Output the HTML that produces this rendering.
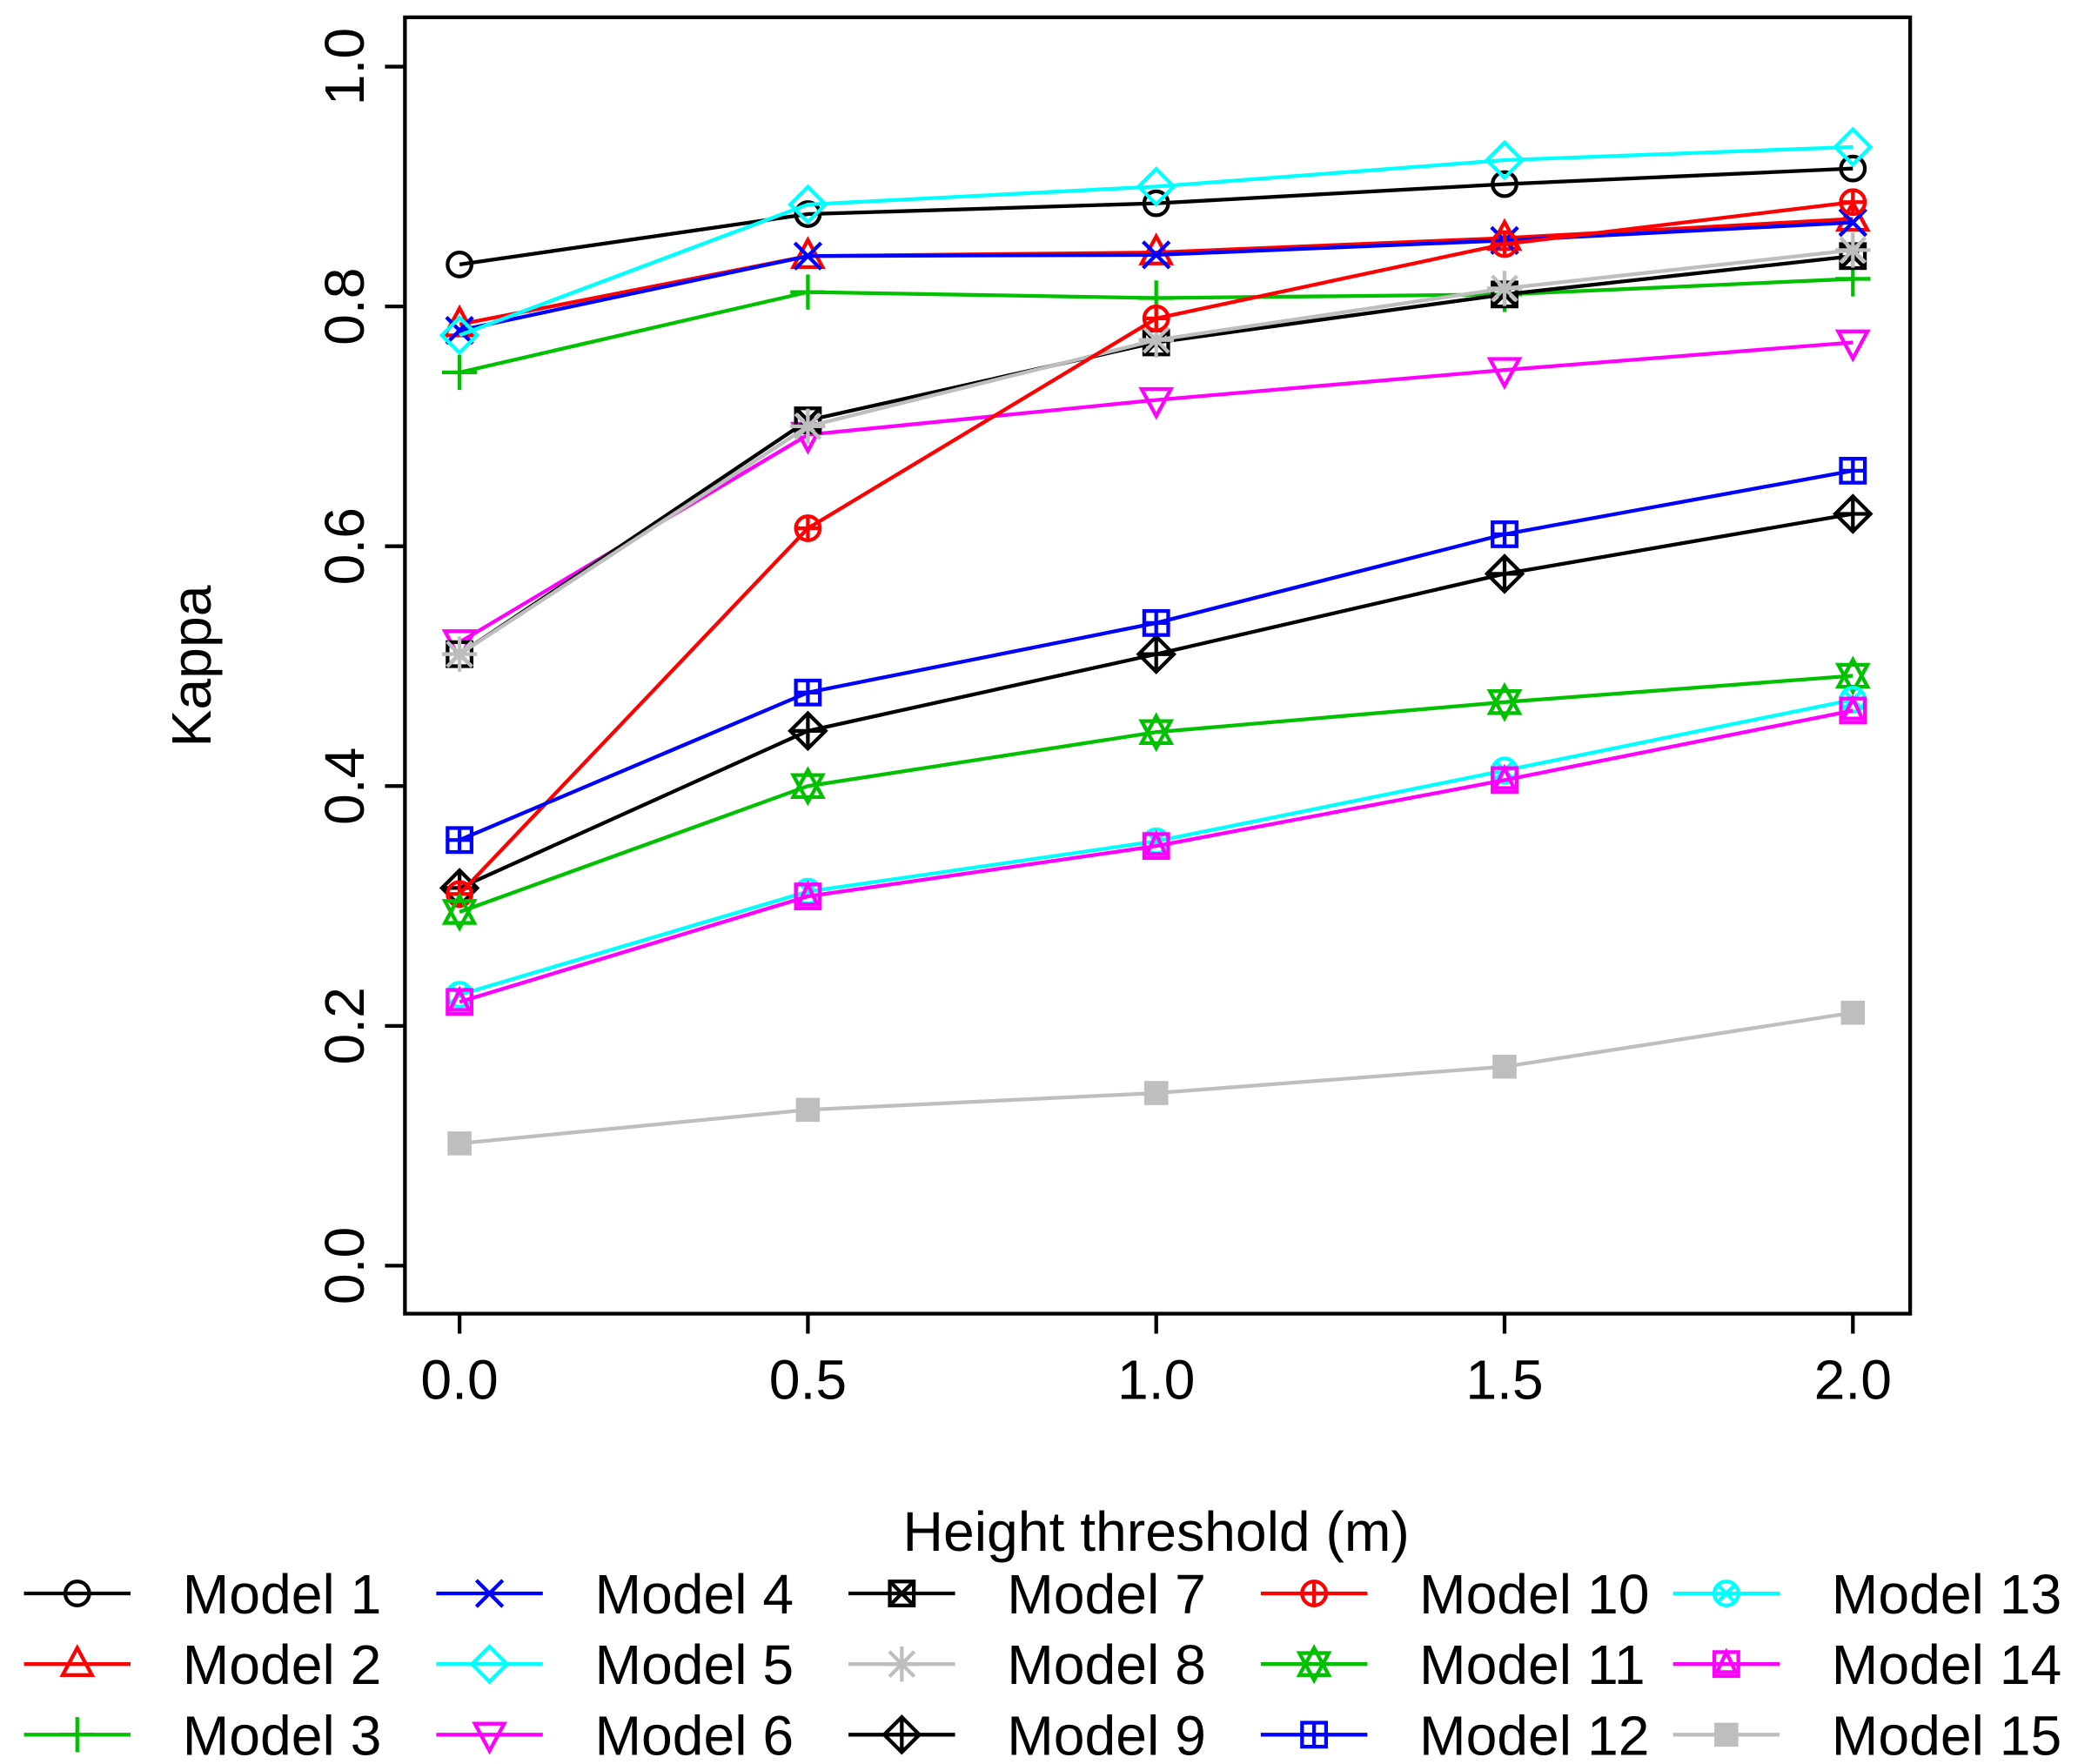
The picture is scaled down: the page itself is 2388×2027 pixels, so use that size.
<!DOCTYPE html>
<html><head><meta charset="utf-8"><style>
html,body{margin:0;padding:0;background:#fff}
svg{display:block}
text{font-family:"Liberation Sans",sans-serif;fill:#000}
</style></head><body>
<svg id="chart" width="2388" height="2027" viewBox="0 0 1560 1324" preserveAspectRatio="none" xmlns="http://www.w3.org/2000/svg">
<rect x="304" y="13" width="1130" height="973" fill="none" stroke="#000" stroke-width="2.8"/>
<g id="axes"></g>
<g id="series"></g>
<g id="legend"></g>
<text x="158" y="500" font-size="42" text-anchor="middle" transform="rotate(-90 158 500)">Kappa</text>
<text x="868" y="1164" font-size="42" text-anchor="middle">Height threshold (m)</text>
</svg>
<script>
const xValues=[0,0.5,1,1.5,2];
const xTickLabels=["0.0","0.5","1.0","1.5","2.0"];
const yTicks=[0,0.2,0.4,0.6,0.8,1.0];
const yTickLabels=["0.0","0.2","0.4","0.6","0.8","1.0"];
const modelNames=["Model 1","Model 2","Model 3","Model 4","Model 5","Model 6","Model 7","Model 8","Model 9","Model 10","Model 11","Model 12","Model 13","Model 14","Model 15"];
const m1=[0.835,0.877,0.886,0.902,0.915];
const m2=[0.785,0.842,0.845,0.857,0.873];
const m3=[0.745,0.812,0.807,0.810,0.823];
const m4=[0.780,0.842,0.843,0.855,0.870];
const m5=[0.776,0.885,0.900,0.922,0.933];
const m6=[0.520,0.693,0.722,0.747,0.770];
const m7=[0.510,0.705,0.770,0.810,0.842];
const m8=[0.510,0.700,0.772,0.815,0.847];
const m9=[0.315,0.446,0.510,0.577,0.627];
const m10=[0.310,0.615,0.790,0.852,0.887];
const m11=[0.295,0.400,0.445,0.470,0.492];
const m12=[0.355,0.478,0.536,0.610,0.663];
const m13=[0.226,0.312,0.354,0.413,0.472];
const m14=[0.220,0.308,0.350,0.405,0.463];
const m15=[0.102,0.130,0.144,0.166,0.211];
const seriesValues=[m1,m2,m3,m4,m5,m6,m7,m8,m9,m10,m11,m12,m13,m14,m15];
const colors=["#000","#f00","#00c000","#00f","#0ff","#f0f","#000","#bebebe","#000","#f00","#00c000","#00f","#0ff","#f0f","#bebebe"];
const shapes=["circle","tri","plus","x","diamond","dtri","boxx","star","diamplus","circplus","david","sqplus","circx","sqtri","fsq"];

const NS="http://www.w3.org/2000/svg";
function X(v){return 345+v*523;}
function Y(v){return 950-v*900;}
function mk(tag,attrs,parent){const e=document.createElementNS(NS,tag);for(const k in attrs)e.setAttribute(k,attrs[k]);parent.appendChild(e);return e;}
const axes=document.getElementById('axes');
xValues.forEach((v,i)=>{
  const t=mk('line',{x1:X(v),x2:X(v),y1:986,y2:1001,stroke:'#000','stroke-width':2.8},axes);
  
  
  const l=mk('text',{x:X(v),y:1050,'font-size':42,'text-anchor':'middle'},axes);
  l.textContent=xTickLabels[i];
  
  
});
yTicks.forEach((v,i)=>{
  const t=mk('line',{x1:289,x2:304,y1:Y(v),y2:Y(v),stroke:'#000','stroke-width':2.8},axes);
  
  
  const l=mk('text',{x:273,y:Y(v),'font-size':42,'text-anchor':'middle',transform:`rotate(-90 273 ${Y(v)})`},axes);
  l.textContent=yTickLabels[i];
  
  
});

function marker(g,shape,cx,cy,c){
  const r=11,sw=2.8;
  const p={fill:'none',stroke:c,'stroke-width':sw};
  const L=(a,b,d,e)=>mk('line',Object.assign({x1:a,y1:b,x2:d,y2:e},p),g);
  const tri=(up)=>{const s=up?1:-1;return mk('polygon',Object.assign({points:`${cx},${cy-s*r*1.1} ${cx-r},${cy+s*r*0.75} ${cx+r},${cy+s*r*0.75}`},p),g);};
  switch(shape){
    case 'circle':mk('circle',Object.assign({cx,cy,r:9},p),g);break;
    case 'tri':tri(true);break;
    case 'plus':L(cx-r*1.2,cy,cx+r*1.2,cy);L(cx,cy-r*1.2,cx,cy+r*1.2);break;
    case 'x':L(cx-r*0.9,cy-r*0.9,cx+r*0.9,cy+r*0.9);L(cx-r*0.9,cy+r*0.9,cx+r*0.9,cy-r*0.9);break;
    case 'diamond':mk('polygon',Object.assign({points:`${cx},${cy-r*1.2} ${cx+r*1.2},${cy} ${cx},${cy+r*1.2} ${cx-r*1.2},${cy}`},p),g);break;
    case 'dtri':tri(false);break;
    case 'boxx':mk('rect',Object.assign({x:cx-9,y:cy-9,width:18,height:18},p),g);L(cx-9,cy-9,cx+9,cy+9);L(cx-9,cy+9,cx+9,cy-9);break;
    case 'star':L(cx-r*1.2,cy,cx+r*1.2,cy);L(cx,cy-r*1.2,cx,cy+r*1.2);L(cx-r*0.85,cy-r*0.85,cx+r*0.85,cy+r*0.85);L(cx-r*0.85,cy+r*0.85,cx+r*0.85,cy-r*0.85);break;
    case 'diamplus':mk('polygon',Object.assign({points:`${cx},${cy-r*1.2} ${cx+r*1.2},${cy} ${cx},${cy+r*1.2} ${cx-r*1.2},${cy}`},p),g);L(cx-r*1.2,cy,cx+r*1.2,cy);L(cx,cy-r*1.2,cx,cy+r*1.2);break;
    case 'circplus':mk('circle',Object.assign({cx,cy,r:9},p),g);L(cx-9,cy,cx+9,cy);L(cx,cy-9,cx,cy+9);break;
    case 'david':tri(true);tri(false);break;
    case 'sqplus':mk('rect',Object.assign({x:cx-9,y:cy-9,width:18,height:18},p),g);L(cx-9,cy,cx+9,cy);L(cx,cy-9,cx,cy+9);break;
    case 'circx':mk('circle',Object.assign({cx,cy,r:9},p),g);L(cx-6.4,cy-6.4,cx+6.4,cy+6.4);L(cx-6.4,cy+6.4,cx+6.4,cy-6.4);break;
    case 'sqtri':mk('rect',Object.assign({x:cx-9,y:cy-9,width:18,height:18},p),g);mk('polygon',Object.assign({points:`${cx},${cy-9} ${cx-7},${cy+6} ${cx+7},${cy+6}`},p),g);break;
    case 'fsq':mk('rect',{x:cx-9,y:cy-9,width:18,height:18,fill:c},g);break;
  }
}
const sg=document.getElementById('series');
seriesValues.forEach((vals,i)=>{
  const g=mk('g',{},sg);
  
  
  const pl=mk('polyline',{points:vals.map((v,j)=>X(xValues[j])+','+Y(v)).join(' '),fill:'none',stroke:colors[i],'stroke-width':2.8},g);
  
  
  vals.forEach((v,j)=>marker(g,shapes[i],X(xValues[j]),Y(v),colors[i]));
});
const lg=document.getElementById('legend');
modelNames.forEach((n,i)=>{
  const col=Math.floor(i/3),row=i%3;
  const x0=18+col*309.5,y0=1196+row*53;
  const g=mk('g',{},lg);
  
  
  mk('line',{x1:x0,x2:x0+80,y1:y0,y2:y0,stroke:colors[i],'stroke-width':2.8},g);
  marker(g,shapes[i],x0+40,y0,colors[i]);
  const t=mk('text',{x:x0+119,y:y0+15,'font-size':42},g);
  t.textContent=n;
});
</script>
</body></html>
